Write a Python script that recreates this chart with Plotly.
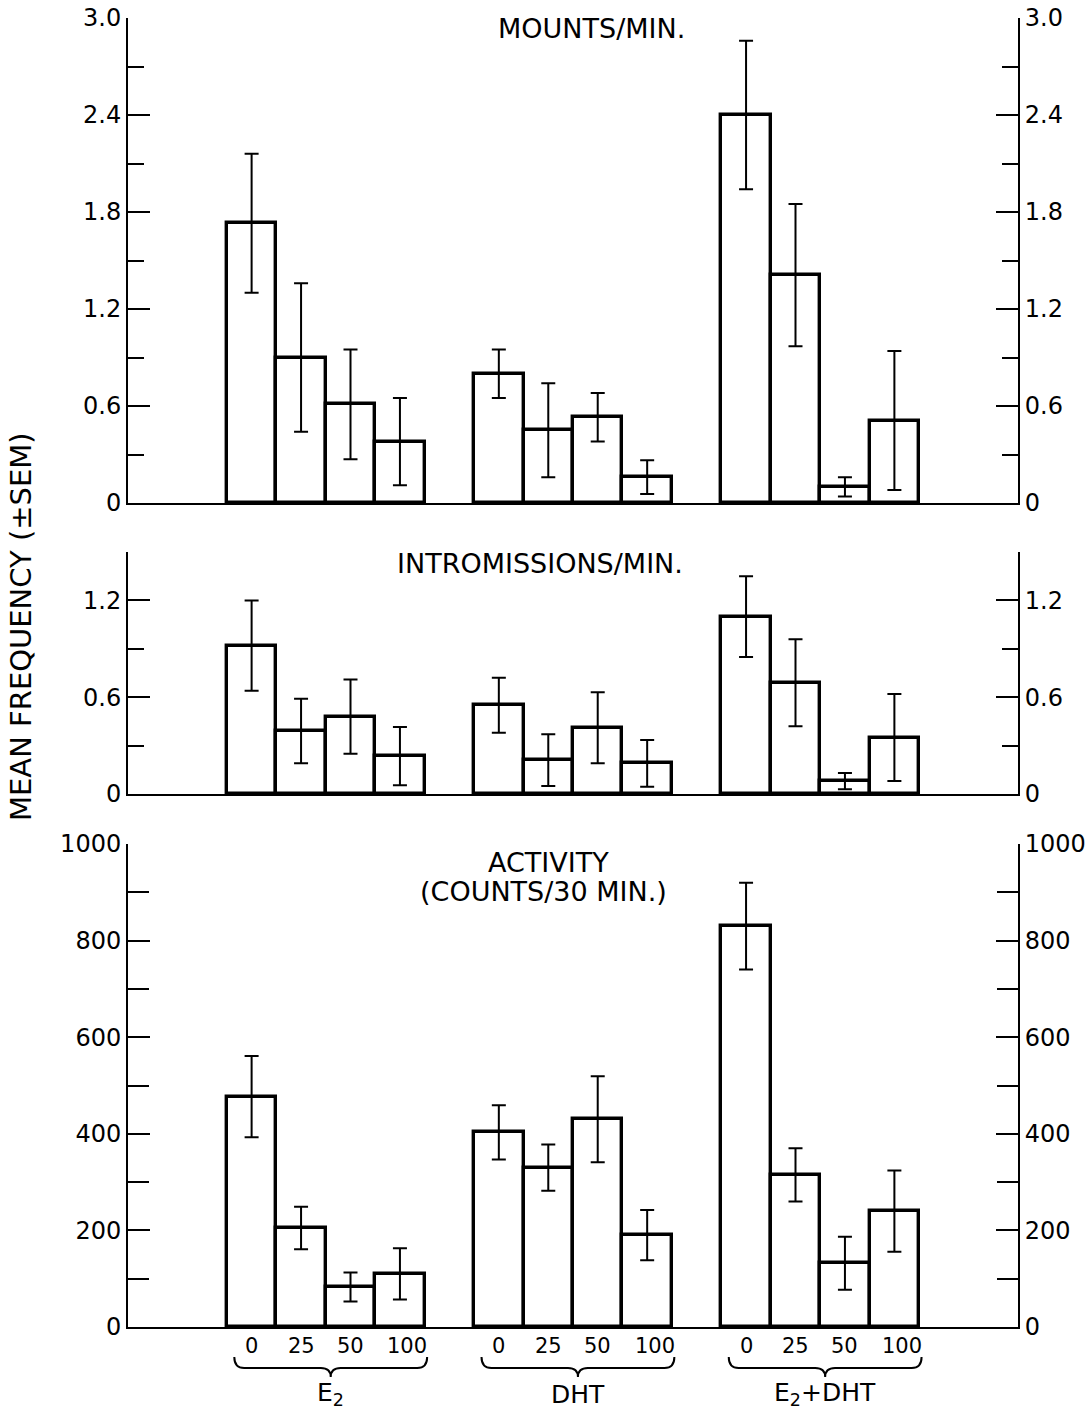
import plotly.graph_objects as go

# ---------------- data ----------------
groups = ["E<sub>2</sub>", "DHT", "E<sub>2</sub>+DHT"]
doses = ["0", "25", "50", "100"]

mounts_mean = [1.73, 0.90, 0.61, 0.38, 0.80, 0.45, 0.53, 0.16, 2.40, 1.41, 0.10, 0.51]
mounts_sem = [0.43, 0.46, 0.34, 0.27, 0.15, 0.29, 0.15, 0.105, 0.46, 0.44, 0.06, 0.43]

intro_mean = [0.92, 0.39, 0.48, 0.235, 0.55, 0.21, 0.41, 0.19, 1.10, 0.69, 0.08, 0.35]
intro_sem = [0.28, 0.20, 0.23, 0.18, 0.17, 0.16, 0.22, 0.145, 0.25, 0.27, 0.05, 0.27]

activity_mean = [477, 205, 83, 110, 403, 330, 430, 190, 830, 315, 132, 240]
activity_sem = [84, 44, 30, 53, 56, 48, 89, 52, 90, 55, 55, 84]

mounts_ticks = [0, 0.6, 1.2, 1.8, 2.4, 3.0]
mounts_ticktext = ["0", "0.6", "1.2", "1.8", "2.4", "3.0"]
mounts_minor = [0.3, 0.9, 1.5, 2.1, 2.7]
intro_ticks = [0, 0.6, 1.2]
intro_ticktext = ["0", "0.6", "1.2"]
intro_minor = [0.3, 0.9, 1.5]
act_ticks = [0, 200, 400, 600, 800, 1000]
act_ticktext = ["0", "200", "400", "600", "800", "1000"]
act_minor = [100, 300, 500, 700, 900]

panel_titles = ["MOUNTS/MIN.", "INTROMISSIONS/MIN.", "ACTIVITY", "(COUNTS/30 MIN.)"]
y_title = "MEAN FREQUENCY (±SEM)"

# ---------------- layout helpers ----------------
GAP = 5  # positions: group*GAP + dose index
xpos = [g * GAP + d for g in range(len(groups)) for d in range(len(doses))]

FONT = "DejaVu Sans"
W, H = 1088, 1410
ML, MR, MT, MB = 128, 70, 18, 83
PH = H - MT - MB


def py(pix):
    """pixel row -> paper y"""
    return (H - MB - pix) / PH


def px(pix):
    return (pix - ML) / (W - ML - MR)


fig = go.Figure()

panels = [
    (mounts_mean, mounts_sem, "x", "y"),
    (intro_mean, intro_sem, "x2", "y2"),
    (activity_mean, activity_sem, "x3", "y3"),
]
for mean, sem, xa, ya in panels:
    fig.add_trace(go.Bar(
        x=xpos, y=mean, width=1.0, xaxis=xa, yaxis=ya,
        marker=dict(color="white", line=dict(color="black", width=3.4)),
        error_y=dict(type="data", array=sem, visible=True, color="black",
                     thickness=2, width=7),
        showlegend=False, hoverinfo="skip",
    ))

xcommon = dict(range=[-2.5, 15.5], showline=True, linecolor="black", linewidth=2,
               ticks="", showticklabels=False, showgrid=False, zeroline=False,
               domain=[0, 1], automargin=False)


def ycommon(rng, tv, tt, mv, dom, minorlen=16):
    return dict(range=rng, domain=dom, tickmode="array", tickvals=tv, ticktext=tt,
                ticks="inside", ticklen=22, tickwidth=2, tickcolor="black",
                minor=dict(tickmode="array", tickvals=mv, ticks="inside",
                           ticklen=minorlen, tickwidth=2, tickcolor="black"),
                showline=True, linecolor="black", linewidth=2, showgrid=False,
                zeroline=False, automargin=False,
                tickfont=dict(family=FONT, size=24, color="black"))


dom1 = [py(503), 1.0]
dom2 = [py(794), py(552)]
dom3 = [0.0, py(844)]

layout = dict(
    width=W, height=H, margin=dict(l=ML, r=MR, t=MT, b=MB, autoexpand=False),
    paper_bgcolor="white", plot_bgcolor="white", bargap=0,
    xaxis=dict(xcommon, anchor="y"),
    xaxis2=dict(xcommon, anchor="y2", matches="x"),
    xaxis3=dict(xcommon, anchor="y3", matches="x"),
    yaxis=dict(ycommon([0, 3.0], mounts_ticks, mounts_ticktext, mounts_minor, dom1), anchor="x"),
    yaxis2=dict(ycommon([0, 1.5001], intro_ticks, intro_ticktext, intro_minor, dom2), anchor="x2"),
    yaxis3=dict(ycommon([0, 1000], act_ticks, act_ticktext, act_minor, dom3, 21), anchor="x3"),
    yaxis4=dict(ycommon([0, 3.0], mounts_ticks, mounts_ticktext, mounts_minor, dom1),
                anchor="x", overlaying="y", side="right"),
    yaxis5=dict(ycommon([0, 1.5001], intro_ticks, intro_ticktext, intro_minor, dom2),
                anchor="x2", overlaying="y2", side="right"),
    yaxis6=dict(ycommon([0, 1000], act_ticks, act_ticktext, act_minor, dom3, 21),
                anchor="x3", overlaying="y3", side="right"),
)
fig.update_layout(**layout)

# invisible traces so the right-hand axes render
for ya, xa in [("y4", "x"), ("y5", "x2"), ("y6", "x3")]:
    fig.add_trace(go.Scatter(x=[0], y=[0], xaxis=xa, yaxis=ya, mode="markers",
                             marker=dict(opacity=0), showlegend=False, hoverinfo="skip"))

ann = []


def txt(text, x, y, xref, size, **kw):
    d = dict(text=text, x=x, y=y, xref=xref, yref="paper", showarrow=False,
             xanchor="center", yanchor="middle",
             font=dict(family=FONT, size=size, color="black"))
    d.update(kw)
    return d


# panel titles
ann.append(txt(panel_titles[0], px(591), py(29), "paper", 27))
ann.append(txt(panel_titles[1], px(540), py(563), "paper", 27))
ann.append(txt(panel_titles[2], px(548), py(862), "paper", 27))
ann.append(txt(panel_titles[3], px(543), py(891), "paper", 27))
# y title
ann.append(txt(y_title, px(21), py(627), "paper", 29, textangle=-90))
# dose labels
for i, xv in enumerate(xpos):
    ann.append(txt(doses[i % len(doses)], xv + (0.15 if i % 4 == 3 else 0),
                   py(1346), "x3", 21))
# group labels
for g, name in enumerate(groups):
    c = g * GAP + (len(doses) - 1) / 2 + 0.1
    ann.append(txt(name, c, py(1394), "x3", 25))
fig.update_layout(annotations=ann)

# braces
shapes = []
yt, ym, yp = py(1357), py(1368), py(1377)
for g in range(len(groups)):
    c = g * GAP + (len(doses) - 1) / 2 + 0.1
    hw = 1.95
    path = (f"M {c-hw},{yt} Q {c-hw},{ym} {c-hw+0.2},{ym} L {c-0.2},{ym} "
            f"Q {c},{ym} {c},{yp} Q {c},{ym} {c+0.2},{ym} L {c+hw-0.2},{ym} "
            f"Q {c+hw},{ym} {c+hw},{yt}")
    shapes.append(dict(type="path", path=path, xref="x3", yref="paper",
                       line=dict(color="black", width=2)))
fig.update_layout(shapes=shapes)

fig.write_html("out.html")
